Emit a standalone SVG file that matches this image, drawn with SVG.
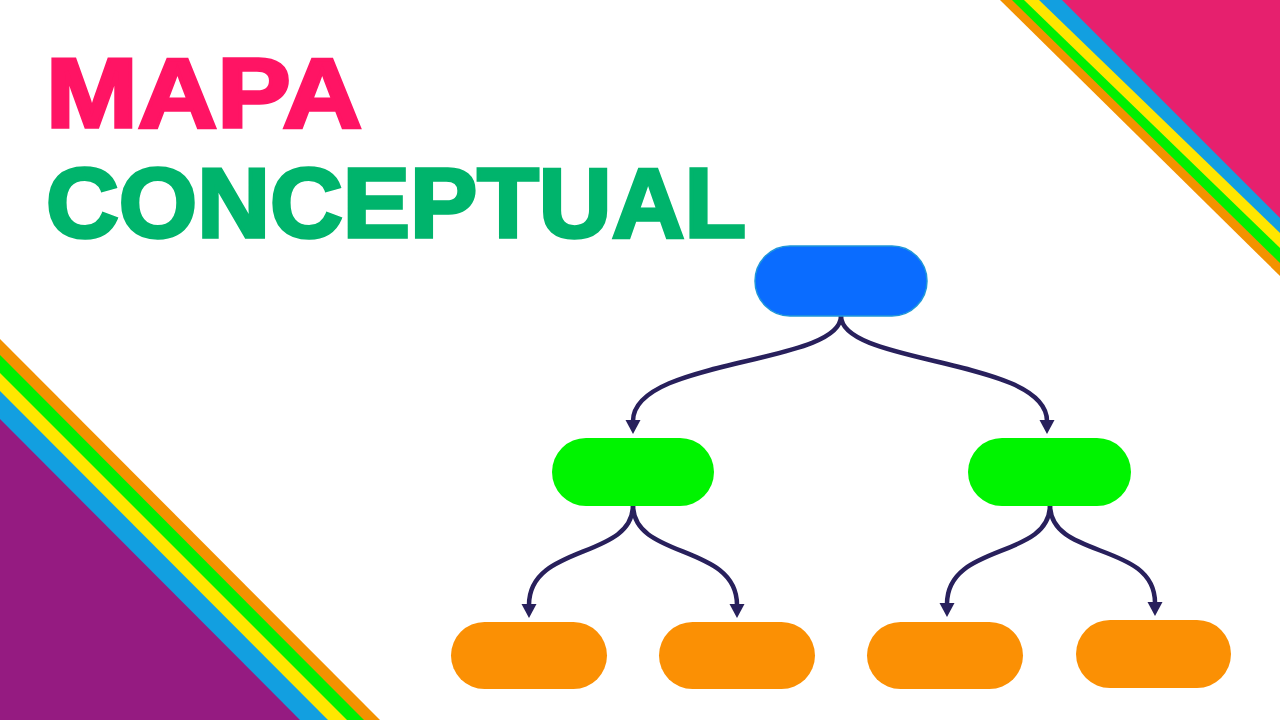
<svg xmlns="http://www.w3.org/2000/svg" width="1280" height="720" viewBox="0 0 1280 720">
  <defs>
    <style>
      .title { font-family: "Liberation Sans", Arial, sans-serif; font-weight: 700; font-size: 98px; stroke-width: 3.5; stroke-linejoin: miter; }
      .conn { fill: none; stroke: #28205c; stroke-width: 4.5; stroke-linecap: butt; }
      .head { fill: #28205c; }
      .blue { fill: #0a6cff; stroke: #2098d8; stroke-width: 1.5; }
      .green { fill: #00f400; }
      .orange { fill: #fb9004; }
    </style>
    <path id="ah" d="M-7.5,-14 L7.5,-14 L0,0 Z"/>
  </defs>
  <rect width="1280" height="720" fill="#ffffff"/>

  <g id="corner-top-right">
    <polygon points="1000,0 1280,0 1280,276" fill="#f39200"/>
    <polygon points="1012,0 1280,0 1280,263" fill="#00f000"/>
    <polygon points="1024,0 1280,0 1280,248" fill="#ffe600"/>
    <polygon points="1039,0 1280,0 1280,233" fill="#129fe0"/>
    <polygon points="1062,0 1280,0 1280,218" fill="#e6206e"/>
  </g>
  <g id="corner-bottom-left">
    <polygon points="0,339 380,720 0,720" fill="#f39200"/>
    <polygon points="0,355 364,720 0,720" fill="#00f000"/>
    <polygon points="0,373 347,720 0,720" fill="#ffe600"/>
    <polygon points="0,391 328,720 0,720" fill="#129fe0"/>
    <polygon points="0,419 300,720 0,720" fill="#951b81"/>
  </g>

  <g id="title">
    <text class="title" x="46" y="127" fill="#ff1464" stroke="#ff1464" textLength="316" lengthAdjust="spacingAndGlyphs">MAPA</text>
    <text class="title" x="46" y="237" fill="#00b46c" stroke="#00b46c" textLength="700" lengthAdjust="spacingAndGlyphs">CONCEPTUAL</text>
  </g>

  <g id="connectors">
    <path class="conn" d="M841,316 C841,365 633,358 633,421"/>
    <path class="conn" d="M841,316 C841,365 1047,358 1047,421"/>
    <path class="conn" d="M633,505 C633,560 529,543 529,605"/>
    <path class="conn" d="M633,505 C633,560 737,543 737,605"/>
    <path class="conn" d="M1050,505 C1050,560 947,542 947,604"/>
    <path class="conn" d="M1050,505 C1050,560 1155,541 1155,603"/>
    <use href="#ah" class="head" x="633" y="434"/>
    <use href="#ah" class="head" x="1047" y="434"/>
    <use href="#ah" class="head" x="529" y="618"/>
    <use href="#ah" class="head" x="737" y="618"/>
    <use href="#ah" class="head" x="947" y="617"/>
    <use href="#ah" class="head" x="1155" y="616"/>
  </g>

  <g id="node-root">
    <rect class="blue" x="755" y="246" width="172" height="70" rx="35"/>
  </g>
  <g id="node-mid-left">
    <rect class="green" x="552" y="438" width="162" height="68" rx="34"/>
  </g>
  <g id="node-mid-right">
    <rect class="green" x="968" y="438" width="163" height="68" rx="34"/>
  </g>
  <g id="node-leaf-1">
    <rect class="orange" x="451" y="622" width="156" height="67" rx="33.5"/>
  </g>
  <g id="node-leaf-2">
    <rect class="orange" x="659" y="622" width="156" height="67" rx="33.5"/>
  </g>
  <g id="node-leaf-3">
    <rect class="orange" x="867" y="622" width="156" height="67" rx="33.5"/>
  </g>
  <g id="node-leaf-4">
    <rect class="orange" x="1076" y="620" width="155" height="68" rx="34"/>
  </g>
</svg>
